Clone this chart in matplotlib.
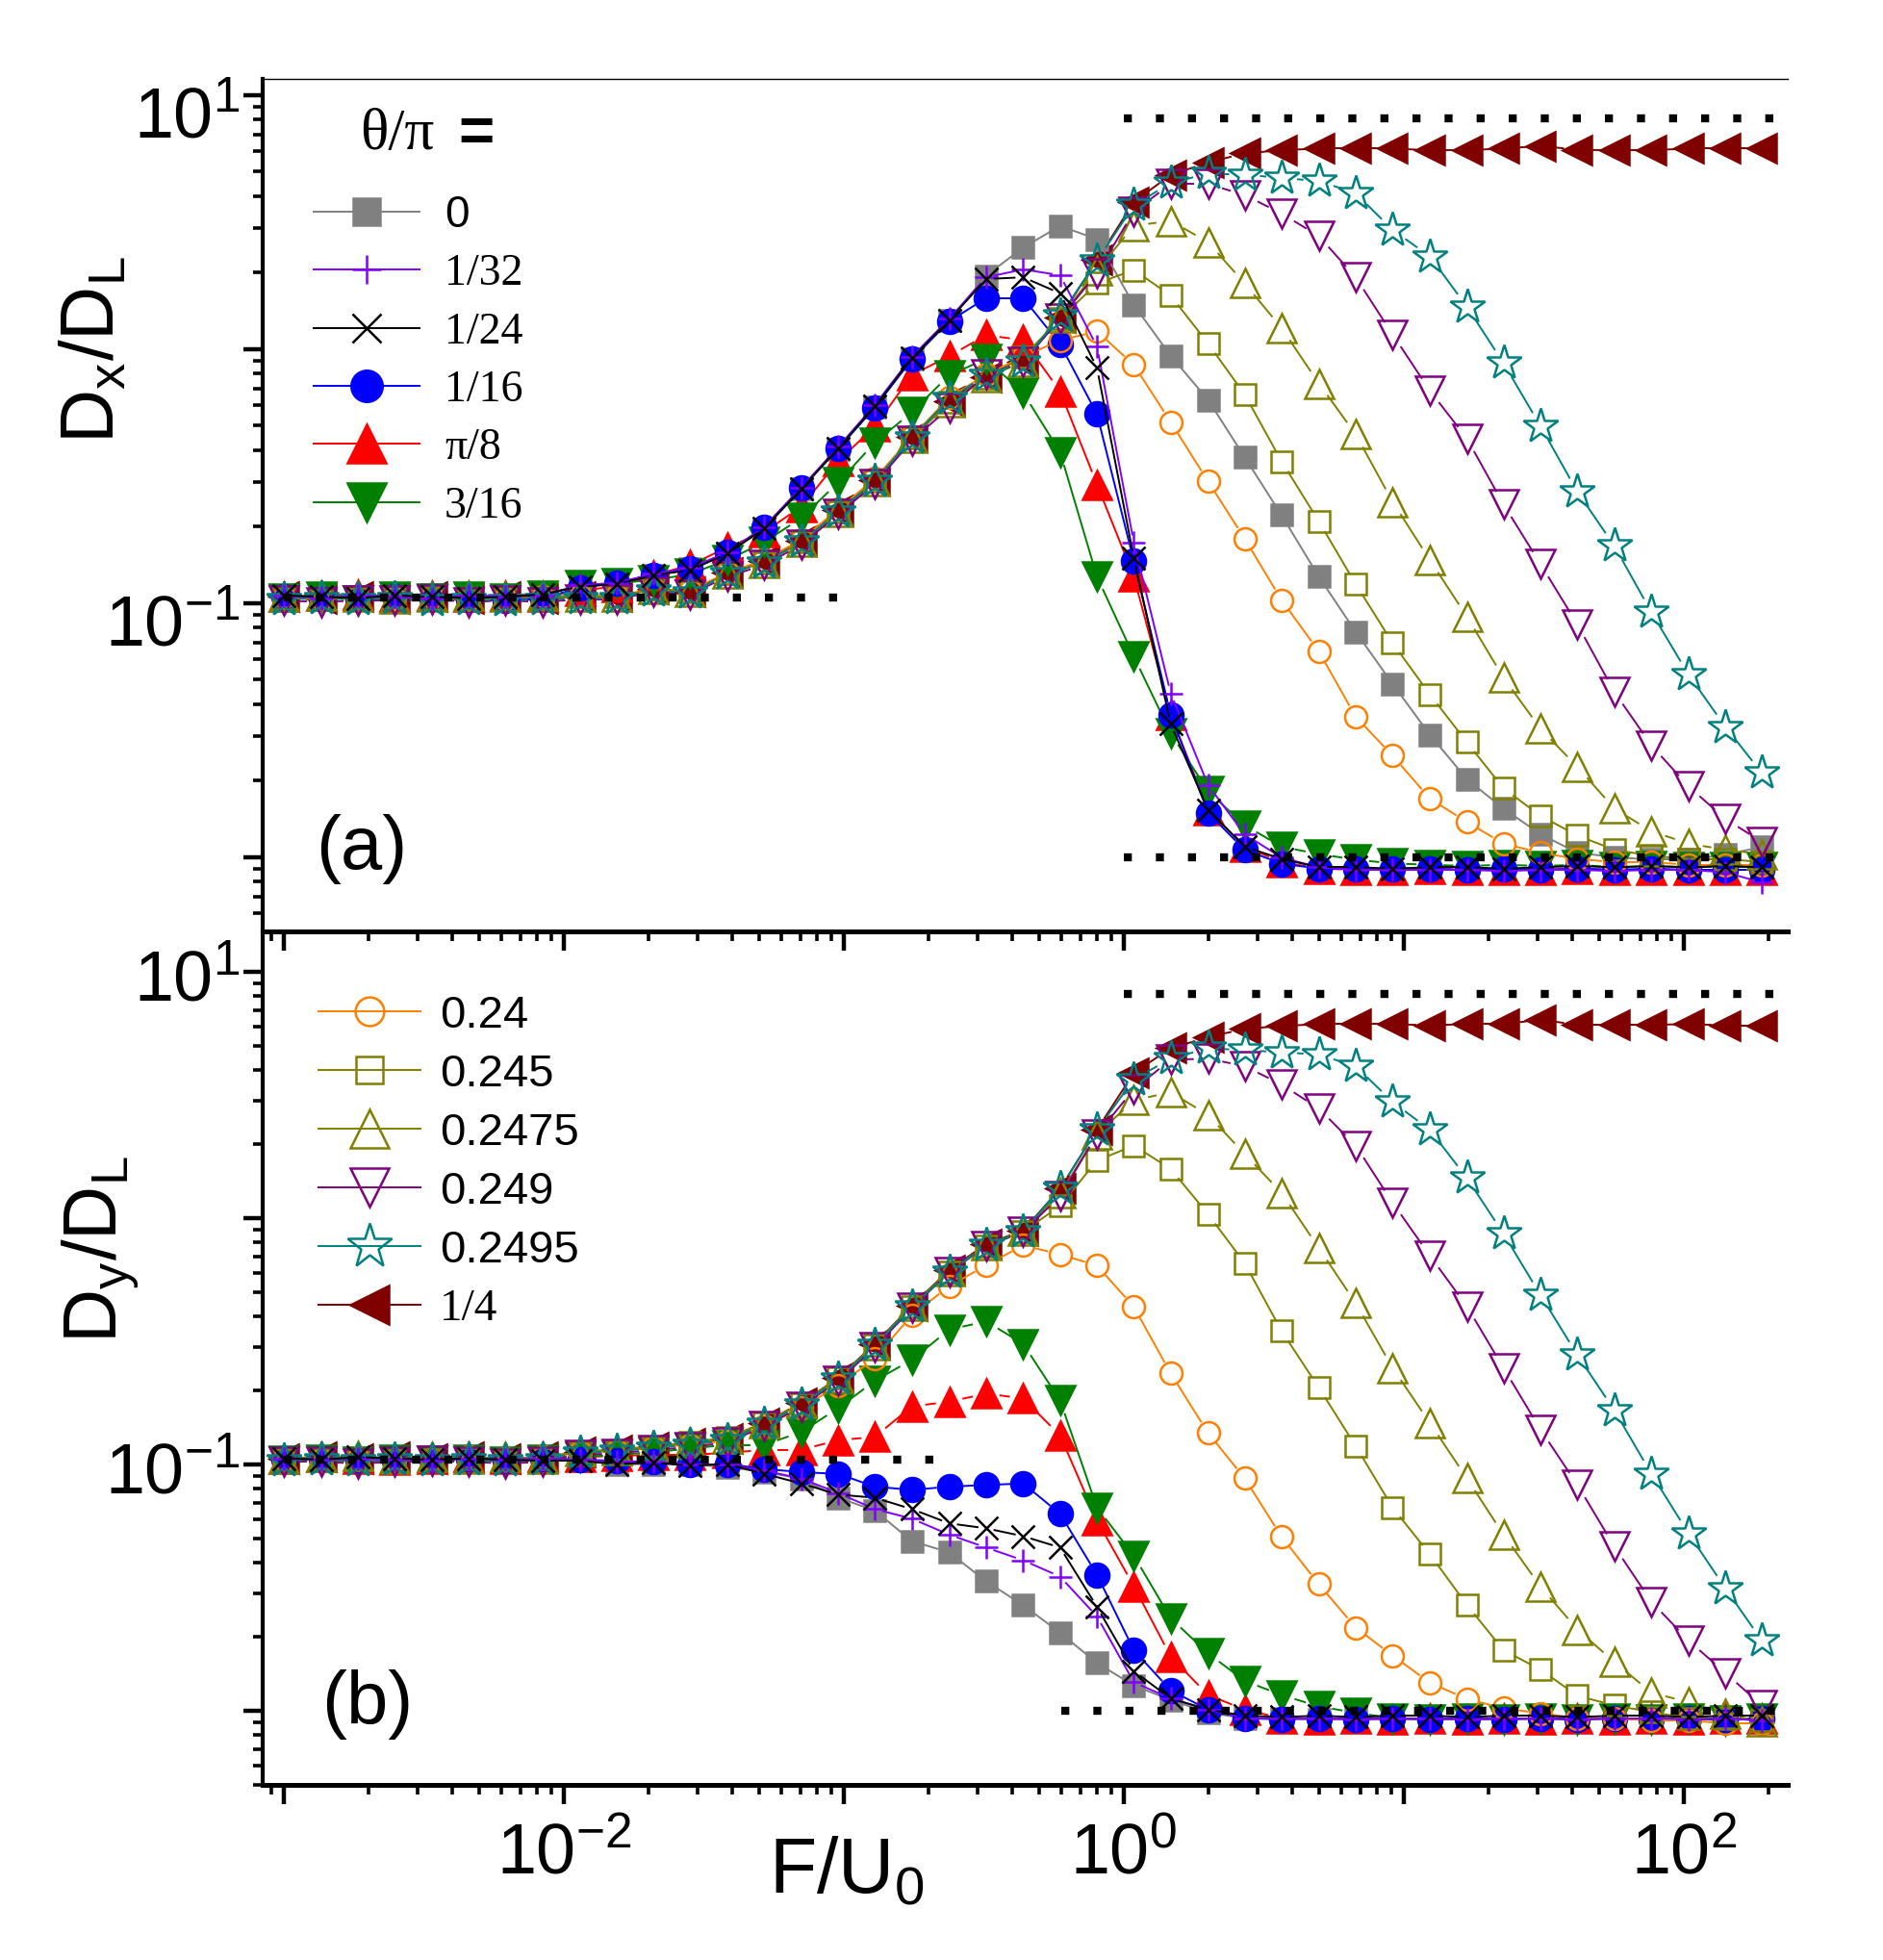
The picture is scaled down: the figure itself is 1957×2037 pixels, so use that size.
import matplotlib
matplotlib.use("Agg")
import matplotlib.pyplot as plt
import numpy as np
from matplotlib.ticker import LogLocator, NullFormatter
from matplotlib.transforms import ScaledTranslation
from matplotlib.collections import LineCollection
from matplotlib.lines import Line2D

plt.rcParams["font.family"] = ["Liberation Sans", "DejaVu Sans"]
plt.rcParams["mathtext.default"] = "regular"

# driving force F/U0 (same grid for every curve)
F = [0.001, 0.00136, 0.00184, 0.00249, 0.00337, 0.00457, 0.00619, 0.0084,
     0.0114, 0.0154, 0.0209, 0.0283, 0.0384, 0.052, 0.0705, 0.0955, 0.129,
     0.175, 0.238, 0.322, 0.437, 0.592, 0.802, 1.086, 1.47, 2.0, 2.7, 3.66,
     4.97, 6.73, 9.12, 12.4, 16.8, 22.7, 30.8, 41.7, 56.5, 76.6, 104, 141, 190]

LABELS = ["0", "1/32", "1/24", "1/16", "π/8", "3/16",
          "0.24", "0.245", "0.2475", "0.249", "0.2495", "1/4"]

# ---- panel (a): log10(Dx/DL) ----
DX_0 = [-0.98, -0.975, -0.98, -0.975, -0.965, -0.975, -0.97, -0.96,
        -0.936, -0.92, -0.89, -0.866, -0.803, -0.708, -0.551, -0.393, -0.229, -0.037, 0.112,
        0.289, 0.40, 0.485, 0.433, 0.174, -0.026, -0.20, -0.425, -0.654, -0.896, -1.113,
        -1.318, -1.519, -1.693, -1.809, -1.91, -1.983, -2.0, -2.01, -2.01, -1.99, -1.96]
DX_1_32 = [-0.97, -0.98, -0.97, -0.975, -0.98, -0.97, -0.975, -0.97,
           -0.93, -0.92, -0.885, -0.86, -0.80, -0.70, -0.545, -0.385, -0.22, -0.03, 0.12,
           0.283, 0.314, 0.291, 0.01, -0.763, -1.355, -1.717, -1.91, -2.002,
           -2.04, -2.05, -2.05, -2.05, -2.05, -2.055, -2.05, -2.05, -2.055, -2.05, -2.05, -2.06, -2.1]
DX_1_24 = [-0.97, -0.975, -0.98, -0.97, -0.975, -0.98, -0.975, -0.965,
           -0.935, -0.925, -0.89, -0.87, -0.805, -0.705, -0.55, -0.39, -0.225, -0.035, 0.115,
           0.276, 0.283, 0.22, -0.074, -0.823, -1.476, -1.814, -1.959, -2.007,
           -2.04, -2.04, -2.045, -2.04, -2.04, -2.045, -2.04, -2.035, -2.04, -2.035, -2.04, -2.035, -2.04]
DX_1_16 = [-0.975, -0.98, -0.98, -0.975, -0.98, -0.985, -0.99, -0.98,
           -0.94, -0.92, -0.89, -0.865, -0.80, -0.70, -0.545, -0.39, -0.23, -0.04, 0.11,
           0.201, 0.201, 0.02, -0.256, -0.835, -1.439, -1.826, -1.971, -2.026,
           -2.045, -2.045, -2.045, -2.045, -2.05, -2.045, -2.05, -2.045, -2.05, -2.045, -2.05, -2.05, -2.05]
DX_PI_8 = [-0.975, -0.97, -0.965, -0.975, -0.97, -0.975, -0.97, -0.975,
           -0.95, -0.935, -0.89, -0.85, -0.78, -0.72, -0.62, -0.44, -0.305, -0.102, -0.027,
           0.055, 0.036, -0.166, -0.533, -0.896, -1.439, -1.814, -1.959, -2.019,
           -2.045, -2.05, -2.05, -2.045, -2.05, -2.05, -2.05, -2.045, -2.05, -2.05, -2.05, -2.05, -2.05]
DX_3_16 = [-0.98, -0.975, -0.99, -0.975, -0.98, -0.975, -0.98, -0.97,
           -0.93, -0.92, -0.91, -0.885, -0.83, -0.76, -0.664, -0.525, -0.368, -0.248, -0.102,
           -0.039, -0.172, -0.405, -0.896, -1.21, -1.512, -1.741, -1.874, -1.959, -1.988,
           -2.01, -2.025, -2.03, -2.035, -2.03, -2.035, -2.03, -2.04, -2.035, -2.04, -2.04, -2.04]
DX_024 = [-0.975, -0.98, -0.975, -0.98, -0.975, -0.985, -0.98, -0.975,
          -0.97, -0.97, -0.945, -0.95, -0.88, -0.83, -0.75, -0.63, -0.51, -0.345, -0.19,
          -0.10, -0.03, 0.035, 0.07, -0.062, -0.287, -0.521, -0.746, -0.988, -1.19,
          -1.447, -1.601, -1.77, -1.862, -1.947, -1.983, -2.007, -2.02, -2.02, -2.03, -2.03, -2.03]
DX_0245 = [-0.98, -0.985, -0.98, -0.975, -0.98, -0.985, -0.975, -0.98,
           -0.975, -0.975, -0.945, -0.955, -0.885, -0.84, -0.76, -0.64, -0.52, -0.35, -0.21,
           -0.115, -0.03, 0.12, 0.259, 0.312, 0.211, 0.022, -0.178, -0.442, -0.678,
           -0.925, -1.157, -1.36, -1.548, -1.729, -1.838, -1.915, -1.971, -1.995, -2.007, -2.007, -2.02]
DX_02475 = [-0.975, -0.97, -0.975, -0.98, -0.975, -0.97, -0.975, -0.97,
            -0.975, -0.975, -0.945, -0.955, -0.885, -0.84, -0.76, -0.64, -0.52, -0.35, -0.21,
            -0.11, -0.05, 0.125, 0.31, 0.486, 0.505, 0.421, 0.259, 0.083, -0.135,
            -0.335, -0.601, -0.831, -1.053, -1.294, -1.495, -1.645, -1.809, -1.898, -1.947, -1.971, -1.988]
DX_0249 = [-0.99, -0.995, -0.99, -0.99, -0.985, -0.995, -0.99, -0.995,
           -0.985, -0.985, -0.955, -0.965, -0.895, -0.85, -0.77, -0.65, -0.53, -0.36, -0.23,
           -0.099, -0.05, 0.119, 0.30, 0.542, 0.65, 0.65, 0.607, 0.534, 0.445,
           0.283, 0.058, -0.164, -0.352, -0.611, -0.847, -1.084, -1.35, -1.56, -1.722, -1.85, -1.94]
DX_02495 = [-0.985, -0.98, -0.985, -0.98, -0.99, -0.985, -0.99, -0.985,
            -0.98, -0.98, -0.95, -0.96, -0.885, -0.84, -0.76, -0.64, -0.52, -0.35, -0.195,
            -0.103, -0.05, 0.131, 0.348, 0.566, 0.655, 0.691, 0.687, 0.674, 0.662,
            0.614, 0.469, 0.365, 0.167, -0.055, -0.304, -0.562, -0.775, -1.036, -1.282, -1.488, -1.669]
DX_1_4 = [-0.975, -0.98, -0.975, -0.98, -0.975, -0.98, -0.975, -0.98,
          -0.975, -0.975, -0.945, -0.955, -0.88, -0.835, -0.755, -0.635, -0.515, -0.345, -0.205,
          -0.11, -0.05, 0.125, 0.35, 0.58, 0.686, 0.735, 0.771, 0.783, 0.79,
          0.79, 0.79, 0.783, 0.783, 0.79, 0.80, 0.785, 0.783, 0.783, 0.79, 0.79, 0.79]

# ---- panel (b): log10(Dy/DL) ----
DY_0 = [-0.98, -0.975, -0.98, -0.975, -0.98, -0.975, -0.98, -0.98,
        -0.985, -1.0, -0.998, -1.0, -1.01, -1.031, -1.057, -1.135, -1.187, -1.311, -1.357,
        -1.474, -1.571, -1.683, -1.806, -1.897, -1.956, -2.008,
        -2.03, -2.03, -2.035, -2.03, -2.035, -2.03, -2.035, -2.03, -2.03, -2.035, -2.03, -2.03, -2.035, -2.03, -2.03]
DY_1_32 = [-0.975, -0.98, -0.975, -0.98, -0.985, -0.975, -0.98, -0.975,
           -0.98, -0.99, -0.99, -1.0, -1.0, -1.025, -1.057, -1.116, -1.181, -1.22, -1.285,
           -1.337, -1.389, -1.455, -1.617, -1.884, -1.95, -1.995,
           -2.03, -2.03, -2.03, -2.035, -2.03, -2.03, -2.035, -2.03, -2.03, -2.035, -2.03, -2.03, -2.035, -2.03, -2.04]
DY_1_24 = [-0.975, -0.98, -0.97, -0.975, -0.98, -0.975, -0.98, -0.985,
           -0.985, -0.998, -0.992, -1.005, -0.998, -1.038, -1.077, -1.122, -1.135, -1.181, -1.239,
           -1.259, -1.291, -1.337, -1.578, -1.839, -1.95, -1.995,
           -2.02, -2.025, -2.02, -2.025, -2.02, -2.02, -2.025, -2.02, -2.02, -2.025, -2.02, -2.02, -2.025, -2.02, -2.02]
DY_1_16 = [-0.98, -0.975, -0.98, -0.985, -0.98, -0.975, -0.985, -0.975,
           -0.98, -0.985, -0.99, -0.998, -0.998, -1.018, -1.031, -1.038, -1.09, -1.103, -1.09,
           -1.083, -1.077, -1.2, -1.448, -1.754, -1.917, -1.995,
           -2.03, -2.035, -2.03, -2.035, -2.03, -2.035, -2.03, -2.035, -2.03, -2.035, -2.03, -2.035, -2.03, -2.035, -2.03]
DY_PI_8 = [-0.975, -0.97, -0.975, -0.98, -0.975, -0.97, -0.975, -0.97,
           -0.97, -0.965, -0.96, -0.96, -0.953, -0.94, -0.94, -0.901, -0.888, -0.764, -0.745,
           -0.712, -0.732, -0.882, -1.227, -1.494, -1.78, -1.936, -1.995,
           -2.03, -2.035, -2.03, -2.035, -2.03, -2.035, -2.03, -2.035, -2.03, -2.035, -2.03, -2.035, -2.03, -2.03]
DY_3_16 = [-0.985, -0.98, -0.99, -0.98, -0.985, -0.98, -0.99, -0.98,
           -0.97, -0.96, -0.95, -0.935, -0.92, -0.92, -0.868, -0.771, -0.66, -0.575, -0.452,
           -0.419, -0.51, -0.74, -1.175, -1.37, -1.624, -1.767, -1.878, -1.936, -1.982, -2.008,
           -2.03, -2.035, -2.03, -2.035, -2.03, -2.035, -2.03, -2.035, -2.03, -2.04, -2.03]
DY_024 = [-0.975, -0.98, -0.975, -0.98, -0.975, -0.97, -0.975, -0.97,
          -0.95, -0.945, -0.93, -0.92, -0.905, -0.845, -0.77, -0.68, -0.569, -0.393, -0.276,
          -0.191, -0.11, -0.147, -0.192, -0.36, -0.63, -0.872, -1.056, -1.293, -1.486,
          -1.662, -1.776, -1.886, -1.952, -1.99, -2.01, -2.03, -2.03, -2.04, -2.04, -2.05, -2.05]
DY_0245 = [-0.98, -0.975, -0.98, -0.985, -0.98, -0.975, -0.98, -0.975,
           -0.95, -0.945, -0.93, -0.91, -0.89, -0.83, -0.755, -0.65, -0.515, -0.36, -0.22,
           -0.115, -0.055, 0.05, 0.234, 0.295, 0.20, 0.016, -0.182, -0.458, -0.688,
           -0.925, -1.175, -1.365, -1.57, -1.754, -1.833, -1.939, -1.978, -2.005, -2.03, -2.03, -2.04]
DY_02475 = [-0.975, -0.97, -0.965, -0.975, -0.97, -0.975, -0.97, -0.975,
            -0.945, -0.94, -0.925, -0.91, -0.895, -0.83, -0.75, -0.65, -0.515, -0.355, -0.215,
            -0.11, -0.05, 0.10, 0.34, 0.479, 0.511, 0.419, 0.261, 0.103, -0.121,
            -0.345, -0.608, -0.832, -1.056, -1.285, -1.496, -1.67, -1.802, -1.926, -1.965, -2.013, -2.044]
DY_0249 = [-0.99, -0.99, -0.995, -0.99, -0.985, -0.99, -0.995, -0.99,
           -0.96, -0.955, -0.94, -0.93, -0.91, -0.845, -0.765, -0.66, -0.525, -0.365, -0.217,
           -0.113, -0.055, 0.089, 0.34, 0.524, 0.643, 0.648, 0.617, 0.543, 0.445,
           0.295, 0.063, -0.153, -0.358, -0.608, -0.859, -1.083, -1.333, -1.557, -1.715, -1.847, -1.978]
DY_02495 = [-0.985, -0.98, -0.985, -0.98, -0.985, -0.98, -0.985, -0.98,
            -0.953, -0.946, -0.933, -0.92, -0.901, -0.836, -0.758, -0.654, -0.517, -0.36, -0.22,
            -0.108, -0.055, 0.121, 0.358, 0.564, 0.648, 0.69, 0.682, 0.674, 0.664,
            0.617, 0.472, 0.358, 0.163, -0.063, -0.313, -0.556, -0.78, -1.038, -1.28, -1.504, -1.715]
DY_1_4 = [-0.975, -0.97, -0.975, -0.97, -0.975, -0.97, -0.975, -0.97,
          -0.95, -0.94, -0.93, -0.915, -0.895, -0.83, -0.75, -0.648, -0.51, -0.355, -0.21,
          -0.105, -0.05, 0.12, 0.36, 0.59, 0.69, 0.735, 0.769, 0.78, 0.788,
          0.788, 0.788, 0.783, 0.788, 0.788, 0.806, 0.785, 0.785, 0.785, 0.788, 0.783, 0.783]

DX_ALL = [DX_0, DX_1_32, DX_1_24, DX_1_16, DX_PI_8, DX_3_16,
          DX_024, DX_0245, DX_02475, DX_0249, DX_02495, DX_1_4]
DY_ALL = [DY_0, DY_1_32, DY_1_24, DY_1_16, DY_PI_8, DY_3_16,
          DY_024, DY_0245, DY_02475, DY_0249, DY_02495, DY_1_4]

# dotted guide lines: level, F start, F end
GUIDE_A_LEVEL = [8.1, 0.105, 0.01]
GUIDE_A_FROM = [1.0, 0.001, 1.0]
GUIDE_A_TO = [235, 0.1, 235]
GUIDE_B_LEVEL = [8.1, 0.105, 0.01]
GUIDE_B_FROM = [1.0, 0.001, 0.6]
GUIDE_B_TO = [235, 0.22, 235]

# styles
COLORS = ["#808080", "#8000FF", "#000000", "#0000FF", "#FF0000", "#008000",
          "#FF8000", "#808000", "#808000", "#800080", "#008080", "#800000"]
MARKERS = ["s", "+", "x", "o", "^", "v", "o", "s", "^", "v", "*", "<"]
FILLED = [True, True, True, True, True, True, False, False, False, False, False, True]
MSIZE = [16, 17, 17, 18, 22, 22, 16.5, 15.5, 22, 22, 27, 22]
GAP = [12, 8, 8, 13, 14, 14, 13, 12, 15, 15, 16, 14]   # px left free around a marker
ZORD = [2.1, 3.0, 3.1, 2.4, 2.2, 2.3, 2.5, 2.6, 2.7, 2.8, 2.9, 2.0]
SERIF_LABEL = [False, True, True, True, True, True, False, False, False, False, False, True]


def gapped_line(ax, x, y, gap, color, z):
    # connect the points but leave the marker area free, as in the original
    pts = ax.transData.transform(np.column_stack([x, y]))
    inv = ax.transData.inverted()
    segs = []
    for p, q in zip(pts[:-1], pts[1:]):
        d = q - p
        L = np.hypot(d[0], d[1])
        if L > 2 * gap + 2:
            u = d / L
            segs.append(inv.transform(np.array([p + u * gap, q - u * gap])))
    ax.add_collection(LineCollection(segs, colors=color, linewidths=1.4, zorder=z))


def setup_axes(ax, ylim):
    ax.set_xscale("log")
    ax.set_yscale("log")
    ax.set_xlim(8.4e-4, 235)
    ax.set_ylim(*ylim)
    ax.set_yticks([1e-2, 1e-1, 1, 10], ["", "$10^{-1}$", "", "$10^{1}$"])
    ax.yaxis.set_minor_locator(LogLocator(base=10, subs=np.arange(2, 10), numticks=30))
    ax.yaxis.set_minor_formatter(NullFormatter())
    ax.xaxis.set_minor_locator(LogLocator(base=10, subs=np.arange(2, 10), numticks=30))
    ax.xaxis.set_minor_formatter(NullFormatter())
    ax.tick_params(which="major", direction="out", length=14.5, width=3.2,
                   labelsize=53, pad=2)
    ax.tick_params(which="minor", direction="out", length=7.5, width=2.6)
    ax.tick_params(axis="x", which="major", pad=13)
    ax.spines["right"].set_visible(False)
    ax.spines["left"].set_linewidth(3.0)
    ax.spines["bottom"].set_linewidth(3.6)
    ax.patch.set_visible(False)


def draw_panel(ax, data, lev, f0, f1):
    handles = []
    for i in range(len(data)):
        c = COLORS[i]
        yv = np.power(10.0, data[i])
        mfc = c if FILLED[i] else "none"
        ax.plot(F, yv, ls="none", marker=MARKERS[i], ms=MSIZE[i],
                mfc=mfc, mec=c, mew=1.8, zorder=ZORD[i])
        gapped_line(ax, F, yv, GAP[i], c, ZORD[i] - 0.05)
        handles.append(Line2D([], [], color=c, lw=1.4, marker=MARKERS[i],
                              ms=MSIZE[i], mfc=mfc, mec=c, mew=1.8))
    for y, a, b in zip(lev, f0, f1):
        ax.plot([a, b], [y, y], color="black", lw=6, ls=(0, (1, 3)),
                dash_capstyle="butt", zorder=5)
    return handles


def add_legend(ax, handles, idx, anchor, fsize, hlen, hpad, lspace):
    leg = ax.legend([handles[i] for i in idx], [LABELS[i] for i in idx],
                    loc="upper left", bbox_to_anchor=anchor, frameon=False,
                    fontsize=fsize, handlelength=hlen, handletextpad=hpad,
                    labelspacing=lspace, borderpad=0, borderaxespad=0,
                    markerscale=1.3)
    for t, i in zip(leg.get_texts(), idx):
        if SERIF_LABEL[i]:
            t.set_fontfamily(["Liberation Serif", "DejaVu Serif"])
    return leg


def shift_ylabels(fig, ax, dy_inch):
    off = ScaledTranslation(0, -dy_inch, fig.dpi_scale_trans)
    for t in ax.yaxis.get_major_ticks():
        t.label1.set_transform(t.label1.get_transform() + off)


fig = plt.figure(figsize=(19.57, 20.37), dpi=100)
ax_a = fig.add_axes([0.1395, 0.5248, 0.8099, 0.435])
ax_b = fig.add_axes([0.1395, 0.0893, 0.8099, 0.4355])

setup_axes(ax_a, (0.0051, 11.6))
setup_axes(ax_b, (0.005, 14.6))

handles_a = draw_panel(ax_a, DX_ALL, GUIDE_A_LEVEL, GUIDE_A_FROM, GUIDE_A_TO)
handles_b = draw_panel(ax_b, DY_ALL, GUIDE_B_LEVEL, GUIDE_B_FROM, GUIDE_B_TO)

ax_a.spines["top"].set_linewidth(1.0)
ax_b.spines["top"].set_visible(False)

ax_a.set_xticks([1e-3, 1e-2, 1e-1, 1, 10, 100], [""] * 6)
ax_b.set_xticks([1e-3, 1e-2, 1e-1, 1, 10, 100],
                ["", "$10^{-2}$", "", "$10^{0}$", "", "$10^{2}$"])
ax_a.set_xlim(8.4e-4, 235)
ax_b.set_xlim(8.4e-4, 235)

shift_ylabels(fig, ax_a, 0.17)
shift_ylabels(fig, ax_b, 0.03)

add_legend(ax_a, handles_a, [0, 1, 2, 3, 4, 5], (0.0334, 0.8646), 33, 2.4, 0.57, 0.39)
add_legend(ax_b, handles_b, [6, 7, 8, 9, 10, 11], (0.0366, 0.9256), 34, 2.25, 0.42, 0.36)

ax_a.text(0.0637, 0.9345, "θ/π", transform=ax_a.transAxes, fontsize=44,
          family=["Liberation Serif", "DejaVu Serif"], va="center", ha="left")
ax_a.text(0.1285, 0.9345, "=", transform=ax_a.transAxes, fontsize=46,
          fontweight="bold", va="center", ha="left")

ax_a.text(0.0347, 0.096, "(a)", transform=ax_a.transAxes, fontsize=56,
          va="center", ha="left")
ax_b.text(0.0385, 0.094, "(b)", transform=ax_b.transAxes, fontsize=56,
          va="center", ha="left")

ax_a.text(-0.0972, 0.6817, r"D$_x$/D$_L$", transform=ax_a.transAxes, fontsize=56,
          rotation=90, rotation_mode="anchor", ha="center", va="baseline")
ax_b.text(-0.0953, 0.628, r"D$_y$/D$_L$", transform=ax_b.transAxes, fontsize=56,
          rotation=90, rotation_mode="anchor", ha="center", va="baseline")
ax_b.text(0.383, -0.127, r"F/U$_0$", transform=ax_b.transAxes, fontsize=58,
          ha="center", va="baseline")

fig.savefig("out.png", dpi=100)
